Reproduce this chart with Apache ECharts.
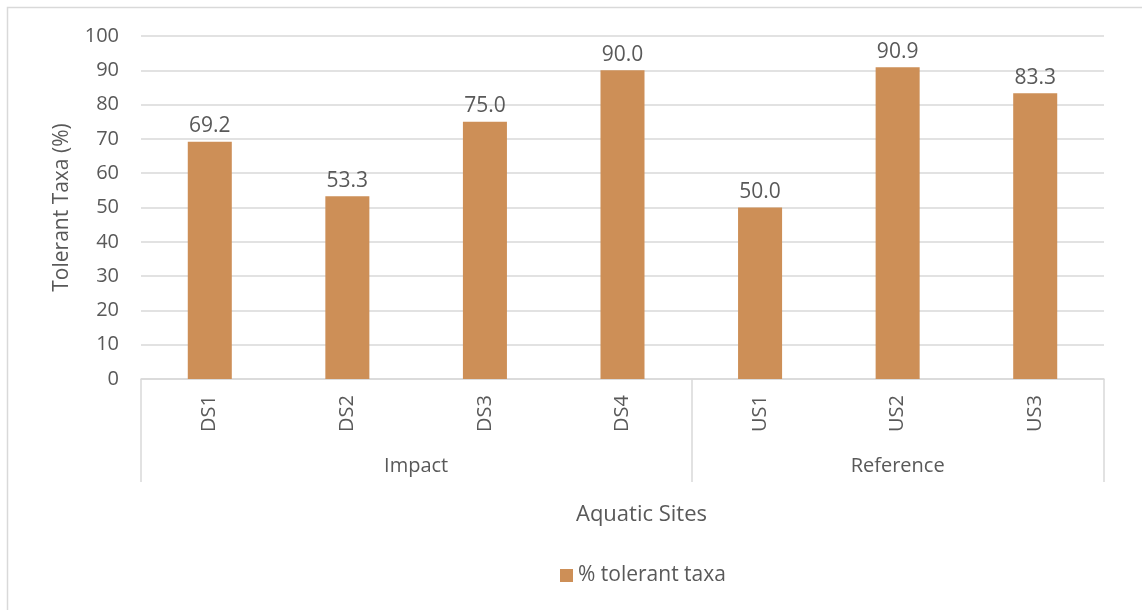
<!DOCTYPE html>
<html><head><meta charset="utf-8">
<script src="https://cdn.jsdelivr.net/npm/echarts@6/dist/echarts.min.js"></script>
<style>html,body{margin:0;padding:0;background:#fff}#c{width:1142px;height:610px}</style>
</head><body><div id="c"></div>
<script>
const categories = ['DS1','DS2','DS3','DS4','US1','US2','US3'];
const values = [69.2, 53.3, 75.0, 90.0, 50.0, 90.9, 83.3];
const groupNames = ['Impact','Reference'];
const groupSizes = [4, 3];
const yTicks = [0,10,20,30,40,50,60,70,80,90,100];
const seriesName = '% tolerant taxa';

const boundaries = [0];
groupSizes.forEach(s => boundaries.push(boundaries[boundaries.length-1] + s));
const groupCenters = groupSizes.map((s,i) => boundaries[i] + s/2);

const font = 'Open Sans';
const txt = '#595959';
const chart = echarts.init(document.getElementById('c'));
chart.setOption({
  animation: false,
  textStyle: {fontFamily: font},
  graphic: [{type:'rect', shape:{x:7.5,y:7.5,width:1200,height:700}, style:{fill:'none', stroke:'#D9D9D9', lineWidth:1.5}, silent:true}],
  title: {text: 'Aquatic Sites', left: 571, top: 499, textStyle:{fontFamily:font, fontSize:22, fontWeight:'normal', color:txt}},
  legend: {data:[seriesName], left: 555, top: 560, itemWidth: 13, itemHeight: 13, itemGap: 6,
    icon: 'rect', textStyle:{fontFamily:font, fontSize:21, color:txt}},
  grid: {left: 141, right: 38, top: 36, bottom: 231, containLabel: false},
  xAxis: [{
    type: 'category', data: categories,
    axisLine: {show:true, lineStyle:{color:'#D9D9D9', width:1.5}},
    axisTick: {show:false},
    axisLabel: {rotate: 90, margin: 16, fontFamily: font, fontSize: 20, color: txt},
    splitLine: {show:false}
  },{
    type: 'value', min: 0, max: boundaries[boundaries.length-1], position: 'bottom',
    axisLine: {show:false},
    splitLine: {show:false},
    axisTick: {show:true, customValues: boundaries, length: 103, lineStyle:{color:'#D9D9D9', width:1.5}},
    axisLabel: {show:true, customValues: groupCenters, margin: 77, fontFamily: font, fontSize: 20, color: txt,
      formatter: v => { const i = groupCenters.indexOf(v); return i >= 0 ? groupNames[i] : ''; }}
  }],
  yAxis: {
    type: 'value', min: 0, max: 100, interval: 10,
    name: 'Tolerant Taxa (%)', nameLocation: 'middle', nameGap: 68,
    nameTextStyle: {fontFamily: font, fontSize: 21, color: txt},
    axisLine: {show:false}, axisTick: {show:false},
    axisLabel: {margin: 22, fontFamily: font, fontSize: 20, color: txt,
      formatter: v => yTicks.includes(v) ? String(v) : ''},
    splitLine: {show:true, lineStyle:{color:'#D9D9D9', width:1.5}}
  },
  series: [{
    name: seriesName, type: 'bar', xAxisIndex: 0, data: values, barWidth: '32%',
    itemStyle: {color: '#CD8F57'},
    label: {show:true, position:'top', distance: 5, fontFamily: font, fontSize: 21, color: txt,
      formatter: p => p.value.toFixed(1)}
  }]
});
</script></body></html>
